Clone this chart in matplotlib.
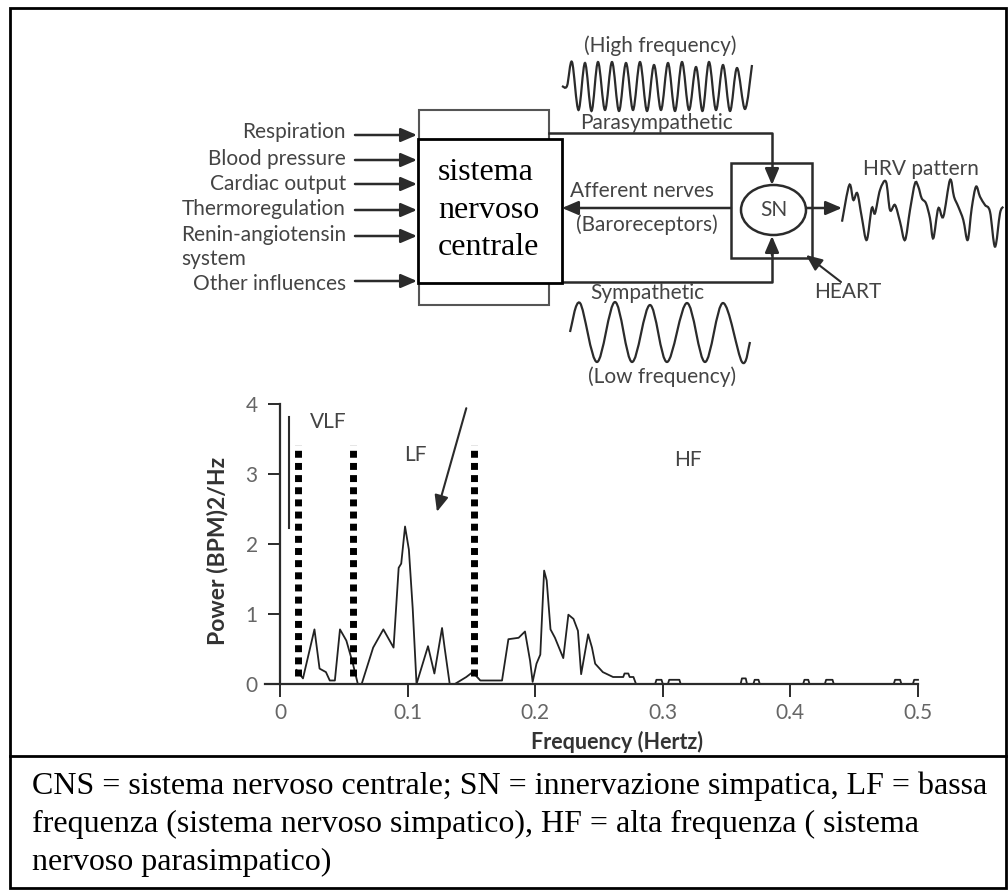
import numpy as np
import matplotlib
matplotlib.use("Agg")
import matplotlib.pyplot as plt
from matplotlib.path import Path
from matplotlib.patches import PathPatch, Rectangle, Ellipse

plt.rcParams['font.family'] = ['Lato', 'DejaVu Sans']

# ---- spectrum data (frequency in Hz, power in (BPM)^2/Hz) ----
freq = [0.013, 0.018, 0.027, 0.031, 0.036, 0.039, 0.043, 0.047, 0.052, 0.057,
        0.061, 0.064, 0.073, 0.081, 0.089, 0.093, 0.095, 0.098, 0.101, 0.104,
        0.107, 0.111, 0.116, 0.121, 0.127, 0.129, 0.133, 0.137, 0.146, 0.151,
        0.157, 0.174, 0.179, 0.187, 0.192, 0.196, 0.198, 0.201, 0.204, 0.207,
        0.209, 0.212, 0.2155, 0.222, 0.226, 0.230, 0.2335, 0.236, 0.2415, 0.2445,
        0.247, 0.253, 0.261, 0.269, 0.270, 0.273, 0.274, 0.277, 0.279, 0.294,
        0.295, 0.299, 0.300, 0.304, 0.305, 0.313, 0.314, 0.361, 0.362, 0.365,
        0.366, 0.371, 0.372, 0.375, 0.376, 0.410, 0.411, 0.414, 0.415, 0.427,
        0.428, 0.433, 0.434, 0.481, 0.482, 0.486, 0.487, 0.496, 0.497, 0.500]
power = [0.20, 0.08, 0.78, 0.22, 0.17, 0.05, 0.05, 0.78, 0.62, 0.30,
         0.0, 0.0, 0.52, 0.78, 0.52, 1.66, 1.72, 2.25, 1.92, 1.08,
         0.0, 0.24, 0.54, 0.15, 0.80, 0.52, 0.0, 0.0, 0.10, 0.17,
         0.05, 0.05, 0.64, 0.66, 0.75, 0.33, 0.03, 0.29, 0.42, 1.62,
         1.48, 0.78, 0.66, 0.37, 0.99, 0.93, 0.76, 0.14, 0.71, 0.52,
         0.29, 0.17, 0.10, 0.10, 0.15, 0.15, 0.10, 0.10, 0.0, 0.0,
         0.06, 0.06, 0.0, 0.0, 0.06, 0.06, 0.0, 0.0, 0.08, 0.08,
         0.0, 0.0, 0.06, 0.06, 0.0, 0.0, 0.06, 0.06, 0.0, 0.0,
         0.06, 0.06, 0.0, 0.0, 0.06, 0.06, 0.0, 0.0, 0.06, 0.06]
band_edges = [0.0143, 0.057, 0.152]
xticks = [0, 0.1, 0.2, 0.3, 0.4, 0.5]
xtick_labels = ['0', '0.1', '0.2', '0.3', '0.4', '0.5']
yticks = [0, 1, 2, 3, 4]
band_names = ['VLF', 'LF', 'HF']
band_label_x = [0.0376, 0.106, 0.32]
band_label_y = [3.74, 3.27, 3.2]

# ---- diagram texts ----
inputs = ['Respiration', 'Blood pressure', 'Cardiac output', 'Thermoregulation',
          'Renin-angiotensin', 'Other influences']
input_y = [132, 159, 184, 209, 235, 284]
cns_lines = ['sistema', 'nervoso', 'centrale']
caption = ['CNS = sistema nervoso centrale; SN = innervazione simpatica, LF = bassa',
           'frequenza (sistema nervoso simpatico), HF = alta frequenza ( sistema',
           'nervoso parasimpatico)']

# wave sketches (pixel positions of turning points)
hf_x = [562, 567, 572, 578.5, 585, 591.5, 598, 605, 612, 619, 626, 633, 640, 647, 654,
        661, 668, 675, 682, 689, 696, 702.5, 709, 716, 723, 730, 737, 745, 752]
hf_y = [86, 86, 62, 110, 63, 111, 62, 110, 62, 111, 63, 110, 62, 111, 65,
        110, 63, 111, 62, 110, 67, 111, 62, 110, 65, 111, 68, 109, 65]
lf_x = [570, 580, 597, 615, 632, 650, 667, 687, 705, 723, 742, 750]
lf_y = [332, 303, 362, 302, 362, 305, 362, 303, 362, 303, 362, 342]
hrv_x = [842, 849.3, 853.3, 857.3, 861.7, 866.7, 871.7, 875, 880, 886, 890, 895, 900,
         905, 910, 915, 918.3, 921.7, 926, 930, 933.3, 938.3, 943.3, 950, 954, 958.3,
         963.3, 967.7, 971.7, 976, 980, 985, 990, 995, 1000, 1003.3]
hrv_y = [221.7, 185, 200, 193.3, 216.7, 240, 208.3, 213.3, 190, 181.7, 210, 205, 221.7,
         240, 210, 183.3, 186.7, 198.3, 203.3, 218.3, 238.3, 208.3, 216.7, 180, 196.7, 206.7,
         220, 240, 208.3, 186.7, 196.7, 205, 211.7, 246.7, 213.3, 206.7]

W, H = 1008, 890
fig = plt.figure(figsize=(W / 100, H / 100), dpi=100)
fig.patch.set_facecolor('white')

# full-figure axes in pixel units for the diagram
ax0 = fig.add_axes([0, 0, 1, 1])
ax0.set_xlim(0, W)
ax0.set_ylim(H, 0)
ax0.axis('off')

ink = '#2b2b2b'
txt = '#444444'
fs = 15


def smooth(ax, xs, ys, **kw):
    # catmull-rom curve through the given points, drawn as bezier segments
    pts = np.column_stack([xs, ys]).astype(float)
    ext = np.vstack([pts[0], pts, pts[-1]])
    verts = [pts[0]]
    codes = [Path.MOVETO]
    for i in range(len(pts) - 1):
        p0, p1, p2, p3 = ext[i], ext[i + 1], ext[i + 2], ext[i + 3]
        verts += [p1 + (p2 - p0) / 6, p2 - (p3 - p1) / 6, p2]
        codes += [Path.CURVE4] * 3
    ax.add_patch(PathPatch(Path(verts, codes), fill=False, **kw))


def arrow(ax, x0, y0, x1, y1, lw=1.8):
    ax.annotate('', xy=(x1, y1), xytext=(x0, y0),
                arrowprops=dict(arrowstyle='-|>,head_length=0.7,head_width=0.3',
                                color=ink, lw=lw, shrinkA=0, shrinkB=0,
                                mutation_scale=14))


# outer frame and divider
ax0.add_patch(Rectangle((10, 8), 996, 880, fill=False, lw=2, ec='black'))
ax0.plot([10, 1006], [756, 756], color='black', lw=2)

# CNS boxes
ax0.add_patch(Rectangle((419, 110), 130, 195, fill=False, lw=1.5, ec='#555555'))
ax0.add_patch(Rectangle((418, 139), 144, 144, fc='white', lw=2, ec='black', zorder=3))
for i, s in enumerate(cns_lines):
    ax0.text(438, 180 + 37.5 * i, s, family='Liberation Serif', fontsize=23,
             ha='left', va='baseline', color='black', zorder=4)

# inputs
for lab, y in zip(inputs, input_y):
    ax0.text(346, y, lab, fontsize=fs, ha='right', va='center', color=txt)
ax0.text(181, 259, 'system', fontsize=fs, ha='left', va='center', color=txt)
for y in [135, 160, 184, 210, 236, 281]:
    arrow(ax0, 355, y, 417, y)

# parasympathetic path
ax0.plot([549, 772, 772], [133, 133, 175], color=ink, lw=1.8)
arrow(ax0, 772, 170, 772, 185)
ax0.text(656, 123, 'Parasympathetic', fontsize=fs, ha='center', va='center', color=txt)
ax0.text(660, 46, '(High frequency)', fontsize=fs, ha='center', va='center', color=txt)
smooth(ax0, hf_x, hf_y, lw=1.6, ec=ink)

# heart box and sinus node
ax0.add_patch(Rectangle((731, 163), 81, 95, fill=False, lw=1.8, ec=ink))
ax0.add_patch(Ellipse((773.5, 210), 65, 50, fc='white', ec=ink, lw=1.8, zorder=3))
ax0.text(773.5, 210, 'SN', fontsize=fs, ha='center', va='center', color=txt, zorder=4)

# afferent nerves
arrow(ax0, 731, 208, 562, 208)
ax0.text(642, 191, 'Afferent nerves', fontsize=fs, ha='center', va='center', color=txt)
ax0.text(647, 225, '(Baroreceptors)', fontsize=fs, ha='center', va='center', color=txt)

# sympathetic path
ax0.plot([562, 772, 772], [282, 282, 250], color=ink, lw=1.8)
arrow(ax0, 772, 255, 772, 236)
ax0.text(647, 293, 'Sympathetic', fontsize=fs, ha='center', va='center', color=txt)
ax0.text(662, 377, '(Low frequency)', fontsize=fs, ha='center', va='center', color=txt)
smooth(ax0, lf_x, lf_y, lw=1.6, ec=ink)

# output
arrow(ax0, 806, 208, 842, 208)
ax0.text(921, 169, 'HRV pattern', fontsize=fs, ha='center', va='center', color=txt)
smooth(ax0, hrv_x, hrv_y, lw=1.6, ec=ink)
ax0.text(848, 292, 'HEART', fontsize=fs, ha='center', va='center', color=txt)
arrow(ax0, 841, 282, 806, 255, lw=1.5)

# caption
for i, s in enumerate(caption):
    ax0.text(32, 794 + 38 * i, s, family='Liberation Serif', fontsize=23,
             ha='left', va='baseline', color='black')

# ---- spectrum axes: data (0,0) at px (280,684), 0.1 Hz = 127.6 px, 1 unit = 70 px ----
x0p, x1p = 280 + (-0.04) * 1276, 280 + 0.52 * 1276
y0p, y1p = 684 + 0.25 * 70, 684 - 4.2 * 70
ax = fig.add_axes([x0p / W, 1 - y0p / H, (x1p - x0p) / W, (y0p - y1p) / H])
ax.set_xlim(-0.04, 0.52)
ax.set_ylim(-0.25, 4.2)
ax.patch.set_alpha(0)
for side in ['top', 'right']:
    ax.spines[side].set_visible(False)
ax.spines['left'].set_position(('data', 0))
ax.spines['bottom'].set_position(('data', 0))
ax.spines['left'].set_bounds(0, 4)
ax.spines['bottom'].set_bounds(-0.012, 0.5)
for side in ['left', 'bottom']:
    ax.spines[side].set_linewidth(1.6)
    ax.spines[side].set_color(ink)
ax.set_xticks(xticks)
ax.set_xticklabels(xtick_labels)
ax.set_yticks(yticks)
ax.tick_params(axis='both', direction='out', length=9, width=1.4, color=ink,
               labelcolor='#666666', labelsize=15)
ax.tick_params(axis='y', pad=7)
ax.tick_params(axis='x', pad=5)

ax.plot(freq, power, color='#222222', lw=1.3)
for xe in band_edges:
    ax.plot([xe, xe], [0.12, 3.42], color='black', lw=5,
            linestyle=(0, (1, 0.75)), solid_capstyle='butt')
ax.plot([0.007, 0.007], [2.23, 3.81], color=ink, lw=1.5)
ax.annotate('', xy=(0.123, 2.46), xytext=(0.146, 3.94),
            arrowprops=dict(arrowstyle='-|>,head_length=0.7,head_width=0.3',
                            color=ink, lw=1.5, shrinkA=0, shrinkB=0, mutation_scale=14))
for name, bx, by in zip(band_names, band_label_x, band_label_y):
    ax.text(bx, by, name, fontsize=fs, ha='center', va='center', color=txt)

ax.text(-0.0486, 1.9, 'Power (BPM)2/Hz', rotation=90, fontsize=16.5, fontweight='bold',
        ha='center', va='center', color='#333333', clip_on=False)
ax.text(0.264, -0.83, 'Frequency (Hertz)', fontsize=15.5, fontweight='bold',
        ha='center', va='center', color='#333333', clip_on=False)

fig.savefig('out.png', dpi=100, facecolor='white')
